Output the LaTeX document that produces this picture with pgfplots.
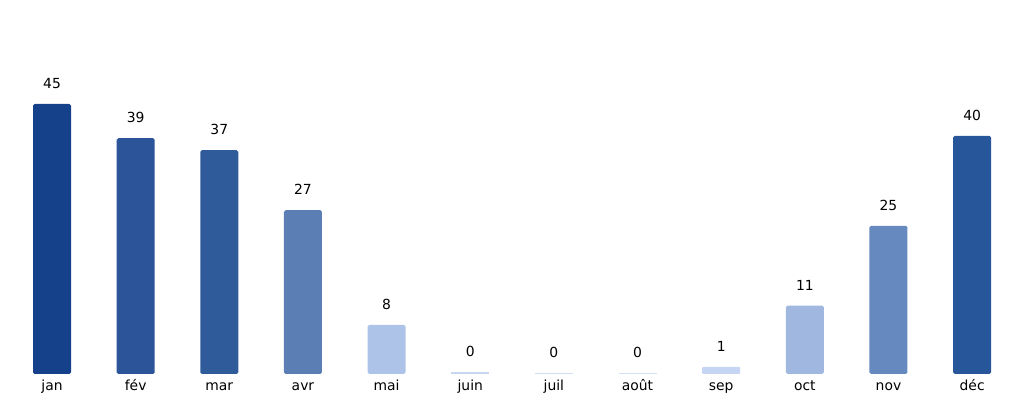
\documentclass[border=0pt]{standalone}
\usepackage{fontspec}
\setmainfont{DejaVu Sans}
\usepackage{pgfplots}
\pgfplotsset{compat=1.18}
\definecolor{cjan}{HTML}{15418A}
\definecolor{cfev}{HTML}{2B5598}
\definecolor{cmar}{HTML}{2F5B9B}
\definecolor{cavr}{HTML}{5B7FB5}
\definecolor{cmai}{HTML}{AEC3E8}
\definecolor{cjuin}{HTML}{C8D6F0}
\definecolor{cjuil}{HTML}{D0DCF2}
\definecolor{caout}{HTML}{D3DEF3}
\definecolor{csep}{HTML}{C6D5F3}
\definecolor{coct}{HTML}{A0B8DF}
\definecolor{cnov}{HTML}{6689BF}
\definecolor{cdec}{HTML}{28569A}
\begin{document}
\fontsize{10}{12}\selectfont
\begin{tikzpicture}
\path[use as bounding box] (0,-21.6pt) rectangle (737.28pt,269.28pt);
\begin{axis}[
  at={(0,0)}, anchor=south west,
  scale only axis,
  width=737.28pt, height=269.28pt,
  xmin=-0.622, xmax=11.62,
  ymin=0, ymax=62.33,
  axis line style={draw=none},
  major tick length=0pt,
  ytick=\empty,
  xtick={0,...,11},
  xticklabels={jan,fév,mar,avr,mai,juin,juil,août,sep,oct,nov,déc},
  xticklabel style={font=\fontsize{10}{12}\selectfont, text height=1.7ex, text depth=0.5ex, yshift=1pt},
  ybar, bar width=27.36pt, bar shift=0pt,
  nodes near coords,
  every node near coord/.append style={font=\fontsize{10}{12}\selectfont, yshift=7.5pt},
  /pgf/number format/fixed, /pgf/number format/precision=0,
  /pgf/number format/assume math mode=true,
  clip=false,
]
\addplot[fill=cjan, draw=none, rounded corners=1.2pt] coordinates {(0,45)};
\addplot[fill=cfev, draw=none, rounded corners=1.2pt] coordinates {(1,39.3)};
\addplot[fill=cmar, draw=none, rounded corners=1.2pt] coordinates {(2,37.3)};
\addplot[fill=cavr, draw=none, rounded corners=1.2pt] coordinates {(3,27.3)};
\addplot[fill=cmai, draw=none, rounded corners=1.2pt] coordinates {(4,8.2)};
\addplot[fill=cjuin, draw=none] coordinates {(5,0.4)};
\addplot[fill=cjuil, draw=none] coordinates {(6,0.2)};
\addplot[fill=caout, draw=none] coordinates {(7,0.1)};
\addplot[fill=csep, draw=none, rounded corners=0.8pt] coordinates {(8,1.2)};
\addplot[fill=coct, draw=none, rounded corners=1.2pt] coordinates {(9,11.4)};
\addplot[fill=cnov, draw=none, rounded corners=1.2pt] coordinates {(10,24.7)};
\addplot[fill=cdec, draw=none, rounded corners=1.2pt] coordinates {(11,39.7)};
\end{axis}
\end{tikzpicture}
\end{document}
